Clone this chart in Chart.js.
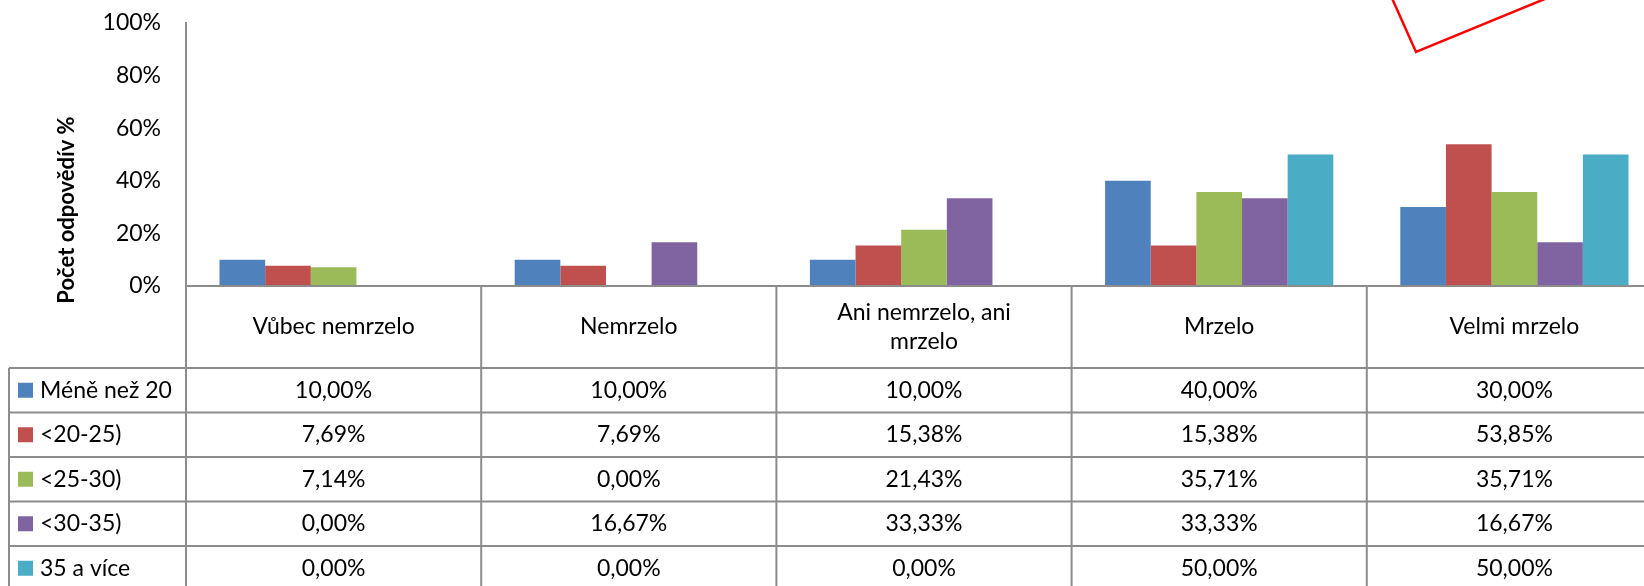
<!DOCTYPE html>
<html>
<head>
<meta charset="utf-8">
<script src="https://cdn.jsdelivr.net/npm/chart.js@4.4.1/dist/chart.umd.min.js"></script>
<style>
  html, body { margin: 0; padding: 0; background: #fff; overflow: hidden; }
  #wrap { position: absolute; left: 0; top: 0; width: 1664px; height: 600px; }
</style>
</head>
<body>
<div id="wrap"><canvas id="chart" width="1664" height="600"></canvas></div>
<script>
// data (hodnoty z tabulky)
const categories = ["Vůbec nemrzelo", "Nemrzelo", ["Ani nemrzelo, ani", "mrzelo"], "Mrzelo", "Velmi mrzelo"];
const seriesNames = ["Méně než 20", "<20-25)", "<25-30)", "<30-35)", "35 a více"];
const meneNez20 = [10.00, 10.00, 10.00, 40.00, 30.00];
const vek20_25 = [7.69, 7.69, 15.38, 15.38, 53.85];
const vek25_30 = [7.14, 0.00, 21.43, 35.71, 35.71];
const vek30_35 = [0.00, 16.67, 33.33, 33.33, 16.67];
const vek35Vice = [0.00, 0.00, 0.00, 50.00, 50.00];
const yTicks = [0, 20, 40, 60, 80, 100];

const seriesValues = [meneNez20, vek20_25, vek25_30, vek30_35, vek35Vice];
const colors = ["#4F81BD", "#C0504D", "#9BBB59", "#8064A2", "#4BACC6"];
const FONT = "Lato, 'Open Sans', sans-serif";
const LINE = "#8c8c8c";

function fmt(v) {
  return v.toFixed(2).replace(".", ",") + "%";
}

// tabulka pod grafem + popisek osy
const tablePlugin = {
  id: "dataTable",
  afterDraw(chart) {
    const ctx = chart.ctx;
    const y = chart.scales.y;
    const x = chart.scales.x;
    const area = chart.chartArea;
    const y0 = y.getPixelForValue(0);
    const n = categories.length;
    const cw = (area.right - area.left) / n;
    const headBottom = y0 + 82;
    const rowH = 44.5;
    const tableBottom = headBottom + rowH * seriesNames.length;

    function line(x1, y1, x2, y2) {
      ctx.beginPath();
      ctx.moveTo(x1, y1);
      ctx.lineTo(x2, y2);
      ctx.stroke();
    }

    ctx.save();
    ctx.strokeStyle = LINE;
    ctx.lineWidth = 2;
    line(area.left, y0, chart.width, y0);
    for (let r = 0; r <= seriesNames.length; r++) {
      const yy = headBottom + r * rowH;
      line(9, yy, chart.width, yy);
    }
    line(9, headBottom, 9, tableBottom);
    for (let i = 0; i <= n; i++) {
      const xx = area.left + i * cw;
      line(xx, y0, xx, tableBottom);
    }

    ctx.fillStyle = "#000";
    ctx.font = "23px " + FONT;
    ctx.textAlign = "center";
    ctx.textBaseline = "middle";

    // kategorie
    const headMid = (y0 + headBottom) / 2;
    categories.forEach((c, i) => {
      const cx = x.getPixelForValue(i);
      const lines = Array.isArray(c) ? c : [c];
      const lh = 29;
      lines.forEach((t, k) => {
        ctx.fillText(t, cx, headMid + (k - (lines.length - 1) / 2) * lh);
      });
    });

    // radky serii
    seriesNames.forEach((name, r) => {
      const mid = headBottom + r * rowH + rowH / 2;
      ctx.fillStyle = colors[r];
      ctx.fillRect(18, mid - 7.5, 15, 15);
      ctx.fillStyle = "#000";
      ctx.textAlign = "left";
      ctx.fillText(name, 40, mid);
      ctx.textAlign = "center";
      seriesValues[r].forEach((v, i) => {
        ctx.fillText(fmt(v), x.getPixelForValue(i), mid);
      });
    });

    // nazev osy y
    ctx.save();
    ctx.translate(67, 210);
    ctx.rotate(-Math.PI / 2);
    ctx.textAlign = "center";
    ctx.font = "bold 22px " + FONT;
    ctx.fillText("Počet odpovědív %", 0, 0);
    ctx.restore();

    // cervena cara vpravo nahore
    ctx.strokeStyle = "#FF0000";
    ctx.lineWidth = 2.5;
    ctx.beginPath();
    ctx.moveTo(1391, -4);
    ctx.lineTo(1416, 52);
    ctx.lineTo(1552, -4);
    ctx.stroke();
    ctx.restore();
  }
};

new Chart(document.getElementById("chart").getContext("2d"), {
  type: "bar",
  data: {
    labels: categories,
    datasets: seriesNames.map((name, i) => ({
      label: name,
      data: seriesValues[i],
      backgroundColor: colors[i],
      borderWidth: 0,
      categoryPercentage: 0.773,
      barPercentage: 1.0,
    })),
  },
  options: {
    responsive: false,
    animation: false,
    devicePixelRatio: 1,
    layout: { padding: { top: 23, left: 0, right: 2, bottom: 314 } },
    plugins: { legend: { display: false }, tooltip: { enabled: false } },
    scales: {
      x: { display: false },
      y: {
        min: 0,
        max: 100,
        afterBuildTicks: (axis) => { axis.ticks = yTicks.map(v => ({ value: v })); },
        afterFit: (axis) => {
          axis.width = 186;
          axis.paddingTop = 0;
          axis.paddingBottom = 0;
        },
        grid: { display: false, drawTicks: false },
        border: { display: true, color: LINE, width: 2 },
        ticks: {
          padding: 25,
          color: "#000",
          font: { family: FONT, size: 23 },
          callback: (v) => v + "%",
        },
      },
    },
  },
  plugins: [tablePlugin],
});
</script>
</body>
</html>
